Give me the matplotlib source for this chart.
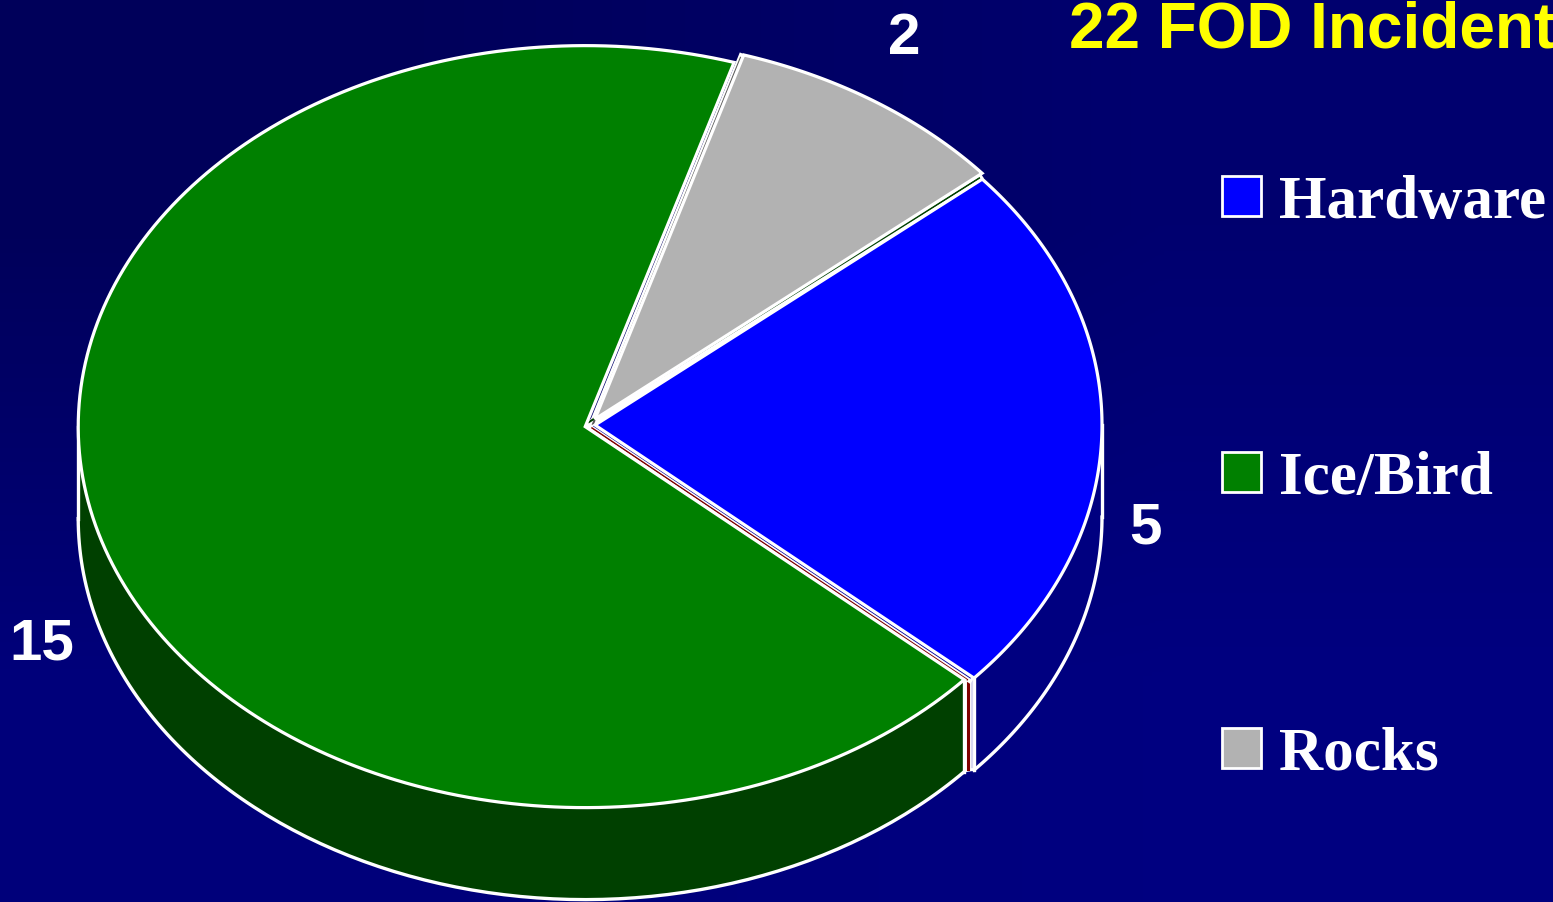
import numpy as np
import matplotlib
matplotlib.use('Agg')
import matplotlib.pyplot as plt
from matplotlib.patches import Patch

# data
labels = ['Hardware', 'Ice/Bird', 'Rocks']
counts = [5, 15, 2]
top_colors = ['#0000ff', '#008000', '#b2b2b2']
side_colors = ['#000080', '#004000', '#595959']
title = '22 FOD Incidents'

W, H = 1553, 902
cx, cy = 591, 425
rx, ry = 507, 381
depth = 92
gaps = [4, 6, 7]
start = 40.2

fig = plt.figure(figsize=(W / 100, H / 100), dpi=100)
ax = fig.add_axes([0, 0, 1, 1])
ax.set_xlim(0, W)
ax.set_ylim(H, 0)
ax.axis('off')

# background, darker in the top left corner
bg = np.array([[0.0, 0.55], [0.85, 1.0]])
cmap = matplotlib.colors.LinearSegmentedColormap.from_list('bg', ['#00005a', '#000080'])
ax.imshow(bg, extent=(0, W, H, 0), cmap=cmap, aspect='auto', interpolation='bilinear', zorder=0)
ax.set_xlim(0, W)
ax.set_ylim(H, 0)

def rim(a, dx=0, dy=0):
    a = np.radians(a)
    return cx + dx + rx * np.cos(a), cy + dy - ry * np.sin(a)

# slice angles from the counts, clockwise
spans = np.array(counts) / sum(counts) * 360
ends = start - np.cumsum(spans)
starts = ends + spans

offs = []
for a0, a1, g in zip(starts, ends, gaps):
    mid = np.radians((a0 + a1) / 2)
    offs.append((g * np.cos(mid), -g * np.sin(mid)))

# side walls, only the lower half of the ellipse shows
for i in [1, 0]:
    dx, dy = offs[i]
    if i == 1:
        t = np.linspace(-180, starts[i], 150)
    else:
        t = np.linspace(ends[i], 0, 60)
    x, y = rim(t, dx, dy)
    ax.fill(np.r_[x, x[::-1]], np.r_[y, y[::-1] + depth], color=side_colors[i], zorder=2)
    ax.plot(x, y + depth, color='white', lw=2.4, zorder=3)
    ax.plot([x[0], x[0]], [y[0], y[0] + depth], color='white', lw=2.4, zorder=3)
    ax.plot([x[-1], x[-1]], [y[-1], y[-1] + depth], color='white', lw=2.4, zorder=3)

# strips in the cut between blue and green
xb, yb = rim(ends[0], *offs[0])
xg, yg = rim(starts[1], *offs[1])
ax.fill([xg, xb, xb, xg], [yg, yb, yb + depth, yg + depth], color='white', zorder=3)
ax.plot([xg + 3.5, xg + 3.5], [yg, yg + depth - 3], color='#800000', lw=2.2, zorder=4)
ax.plot([xb - 2.5, xb - 2.5], [yb, yb + depth - 3], color='#d8d8f0', lw=1.6, zorder=4)

# gaps between the slices, white with the dark wall showing through
ax.plot([cx + 1, xg + 5], [cy + 2, yg - 1], color='white', lw=5.5, zorder=4)
ax.plot([cx + 1, xg + 3], [cy + 3, yg], color='#800000', lw=1.1, zorder=5)
ax.plot([cx + 3, xg + 6], [cy + 1, yg - 2], color='#0000a0', lw=1.1, zorder=5)
xr, yr = rim(starts[2], *offs[2])
ax.plot([cx + 2, xr - 2], [cy - 2, yr + 2], color='white', lw=5, zorder=4)
ax.plot([cx + 2, xr - 3], [cy - 1, yr + 3], color=side_colors[2], lw=1.5, zorder=5)
xr2, yr2 = rim(ends[2], *offs[2])
ax.plot([cx - 3, xr2 - 3], [cy, yr2 + 4], color='white', lw=5, zorder=4)
ax.plot([cx - 2, xr2 - 3], [cy - 3, yr2 + 5], color=side_colors[1], lw=1.5, zorder=5)

# top faces
for i in range(len(counts)):
    t = np.linspace(starts[i], ends[i], 200)
    x, y = rim(t, *offs[i])
    ax.fill(np.r_[cx + offs[i][0], x], np.r_[cy + offs[i][1], y], facecolor=top_colors[i],
            edgecolor='white', lw=2.3, joinstyle='miter', zorder=6)

# value labels
val_font = dict(family='Liberation Sans', weight='bold', color='white', fontsize=42, zorder=8)
ax.text(904, 39, str(counts[2]), ha='center', va='center', **val_font)
ax.text(1145, 528, str(counts[0]), ha='center', va='center', **val_font)
ax.text(42, 644, str(counts[1]), ha='center', va='center', **val_font)

ax.text(1069, 47, title, color='#ffff00', family='Liberation Sans', weight='bold',
        fontsize=46, ha='left', va='baseline', zorder=8)

handles = [Patch(facecolor=c, edgecolor='white', lw=2) for c in top_colors]
leg = ax.legend(handles, labels, loc='upper left', bbox_to_anchor=(0.787, 0.806), frameon=False,
                prop=dict(family='Liberation Serif', weight='bold', size=44),
                handlelength=0.63, handleheight=0.63, handletextpad=0.3,
                labelspacing=3.6, borderpad=0, borderaxespad=0, labelcolor='white')

fig.savefig('out.png', dpi=100, facecolor='#000080')
